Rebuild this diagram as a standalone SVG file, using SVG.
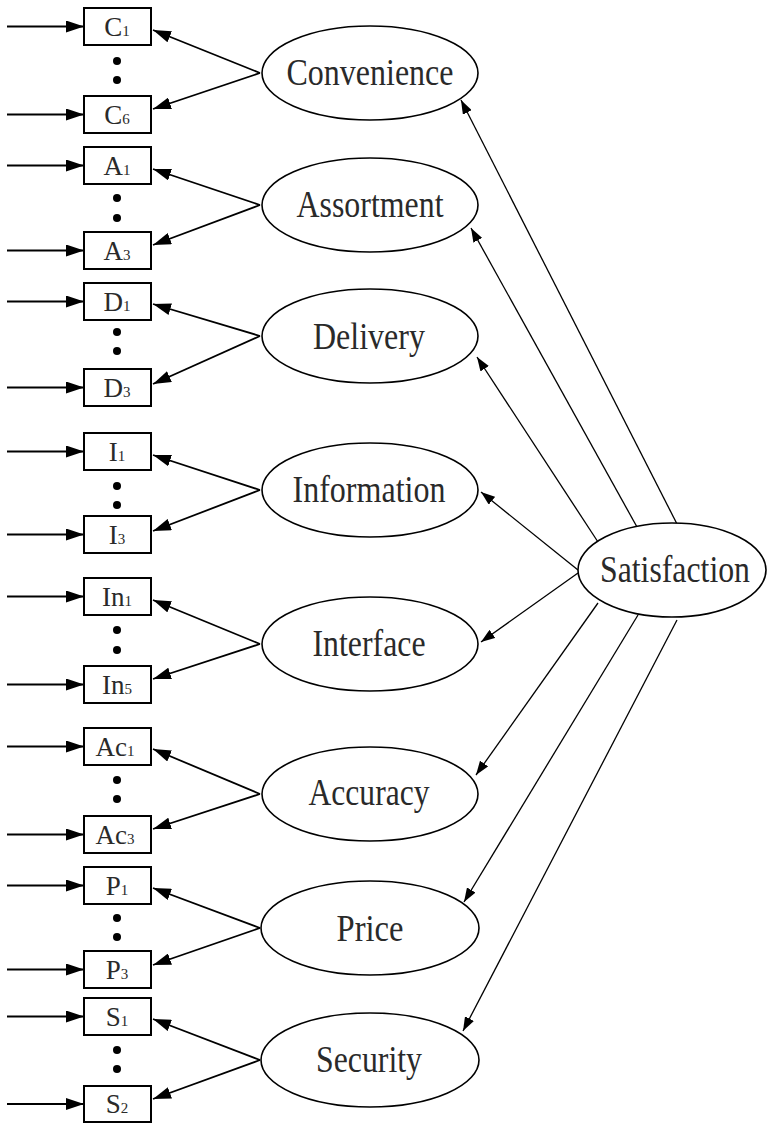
<svg xmlns="http://www.w3.org/2000/svg" width="769" height="1123" viewBox="0 0 769 1123">
<style>
.box{fill:#fff;stroke:#000;stroke-width:2}
.ell{fill:#fff;stroke:#000;stroke-width:1.6}
.dot{fill:#000}
.big{font-family:"Liberation Serif","Times New Roman",serif;font-size:37px;fill:#2a2a2a;text-anchor:middle}
.lbl{font-family:"Liberation Serif","Times New Roman",serif;font-size:27px;fill:#2a2a2a;text-anchor:middle}
.sub{font-size:15px}
.in{stroke:#000;stroke-width:2;fill:none;marker-end:url(#ah)}
.eb{stroke:#000;stroke-width:1.8;fill:none;marker-end:url(#ah)}
.sa{stroke:#000;stroke-width:1.3;fill:none;marker-end:url(#as)}
</style>
<defs>
<marker id="ah" markerUnits="userSpaceOnUse" markerWidth="18" markerHeight="12" refX="18" refY="6" orient="auto"><path d="M0,0 L18,6 L0,12 z" fill="#000"/></marker>
<marker id="as" markerUnits="userSpaceOnUse" markerWidth="14" markerHeight="10" refX="14" refY="5" orient="auto"><path d="M0,0 L14,5 L0,10 z" fill="#000"/></marker>
</defs>
<rect width="769" height="1123" fill="#fff"/>
<g id="connectors">
<line class="in" x1="7" y1="26.5" x2="84" y2="26.5"/>
<line class="in" x1="7" y1="114.5" x2="84" y2="114.5"/>
<line class="in" x1="7" y1="165.5" x2="84" y2="165.5"/>
<line class="in" x1="7" y1="250.5" x2="84" y2="250.5"/>
<line class="in" x1="7" y1="301.5" x2="84" y2="301.5"/>
<line class="in" x1="7" y1="387.5" x2="84" y2="387.5"/>
<line class="in" x1="7" y1="451.5" x2="84" y2="451.5"/>
<line class="in" x1="7" y1="534.5" x2="84" y2="534.5"/>
<line class="in" x1="7" y1="596.5" x2="84" y2="596.5"/>
<line class="in" x1="7" y1="684.5" x2="84" y2="684.5"/>
<line class="in" x1="7" y1="746.5" x2="84" y2="746.5"/>
<line class="in" x1="7" y1="834.5" x2="84" y2="834.5"/>
<line class="in" x1="7" y1="885.5" x2="84" y2="885.5"/>
<line class="in" x1="7" y1="969.5" x2="84" y2="969.5"/>
<line class="in" x1="7" y1="1016.5" x2="84" y2="1016.5"/>
<line class="in" x1="7" y1="1104" x2="84" y2="1104"/>
<line class="eb" x1="260" y1="73" x2="153" y2="30"/>
<line class="eb" x1="260" y1="73" x2="153" y2="109"/>
<line class="eb" x1="260" y1="205" x2="153" y2="169"/>
<line class="eb" x1="260" y1="205" x2="153" y2="245"/>
<line class="eb" x1="260" y1="336" x2="153" y2="304"/>
<line class="eb" x1="260" y1="336" x2="153" y2="384"/>
<line class="eb" x1="260" y1="490" x2="153" y2="455"/>
<line class="eb" x1="260" y1="490" x2="153" y2="531"/>
<line class="eb" x1="260" y1="644" x2="153" y2="600"/>
<line class="eb" x1="260" y1="644" x2="153" y2="679"/>
<line class="eb" x1="260" y1="794" x2="153" y2="749"/>
<line class="eb" x1="260" y1="794" x2="153" y2="829"/>
<line class="eb" x1="260" y1="928" x2="153" y2="888"/>
<line class="eb" x1="260" y1="928" x2="153" y2="965"/>
<line class="eb" x1="260" y1="1060" x2="153" y2="1019"/>
<line class="eb" x1="260" y1="1060" x2="153" y2="1099"/>
<line class="sa" x1="677" y1="524" x2="461" y2="100"/>
<line class="sa" x1="637" y1="527" x2="471" y2="228"/>
<line class="sa" x1="598" y1="542" x2="477" y2="357"/>
<line class="sa" x1="578" y1="570" x2="481" y2="492"/>
<line class="sa" x1="578" y1="573" x2="481" y2="642"/>
<line class="sa" x1="598" y1="603" x2="476" y2="775"/>
<line class="sa" x1="638" y1="615" x2="464" y2="902"/>
<line class="sa" x1="677" y1="620" x2="463" y2="1031"/>
</g>
<g id="convenience"><ellipse class="ell" cx="370" cy="73" rx="108" ry="47"/><text class="big" x="370" y="85" textLength="167" lengthAdjust="spacingAndGlyphs">Convenience</text></g>
<g id="assortment"><ellipse class="ell" cx="370" cy="205" rx="108" ry="47"/><text class="big" x="370" y="217" textLength="147" lengthAdjust="spacingAndGlyphs">Assortment</text></g>
<g id="delivery"><ellipse class="ell" cx="370" cy="336" rx="108" ry="47"/><text class="big" x="369" y="349" textLength="112" lengthAdjust="spacingAndGlyphs">Delivery</text></g>
<g id="information"><ellipse class="ell" cx="370" cy="490" rx="108" ry="47"/><text class="big" x="369" y="502" textLength="153" lengthAdjust="spacingAndGlyphs">Information</text></g>
<g id="interface"><ellipse class="ell" cx="370" cy="644" rx="108" ry="47"/><text class="big" x="369" y="656" textLength="113" lengthAdjust="spacingAndGlyphs">Interface</text></g>
<g id="accuracy"><ellipse class="ell" cx="370" cy="794" rx="108" ry="47"/><text class="big" x="369" y="805" textLength="121" lengthAdjust="spacingAndGlyphs">Accuracy</text></g>
<g id="price"><ellipse class="ell" cx="370" cy="928" rx="109" ry="47"/><text class="big" x="370" y="941" textLength="67" lengthAdjust="spacingAndGlyphs">Price</text></g>
<g id="security"><ellipse class="ell" cx="370" cy="1060" rx="109" ry="47"/><text class="big" x="369" y="1072" textLength="106" lengthAdjust="spacingAndGlyphs">Security</text></g>
<g id="satisfaction"><ellipse class="ell" cx="672" cy="570" rx="94" ry="47"/><text class="big" x="675" y="582" textLength="150" lengthAdjust="spacingAndGlyphs">Satisfaction</text></g>
<g id="C1"><rect class="box" x="84" y="8" width="67" height="37"/><text class="lbl" x="117" y="36">C<tspan class="sub">1</tspan></text></g>
<g id="C6"><rect class="box" x="84" y="96" width="67" height="37"/><text class="lbl" x="117" y="124">C<tspan class="sub">6</tspan></text></g>
<g id="A1"><rect class="box" x="84" y="147" width="67" height="37"/><text class="lbl" x="117" y="175">A<tspan class="sub">1</tspan></text></g>
<g id="A3"><rect class="box" x="84" y="232" width="67" height="37"/><text class="lbl" x="117" y="260">A<tspan class="sub">3</tspan></text></g>
<g id="D1"><rect class="box" x="84" y="283" width="67" height="37"/><text class="lbl" x="117" y="311">D<tspan class="sub">1</tspan></text></g>
<g id="D3"><rect class="box" x="84" y="369" width="67" height="37"/><text class="lbl" x="117" y="397">D<tspan class="sub">3</tspan></text></g>
<g id="I1"><rect class="box" x="84" y="433" width="67" height="37"/><text class="lbl" x="117" y="461">I<tspan class="sub">1</tspan></text></g>
<g id="I3"><rect class="box" x="84" y="516" width="67" height="37"/><text class="lbl" x="117" y="544">I<tspan class="sub">3</tspan></text></g>
<g id="In1"><rect class="box" x="84" y="578" width="67" height="37"/><text class="lbl" x="117" y="606">In<tspan class="sub">1</tspan></text></g>
<g id="In5"><rect class="box" x="84" y="666" width="67" height="37"/><text class="lbl" x="117" y="694">In<tspan class="sub">5</tspan></text></g>
<g id="Ac1"><rect class="box" x="84" y="728" width="67" height="37"/><text class="lbl" x="115" y="756">Ac<tspan class="sub">1</tspan></text></g>
<g id="Ac3"><rect class="box" x="84" y="816" width="67" height="37"/><text class="lbl" x="115" y="844">Ac<tspan class="sub">3</tspan></text></g>
<g id="P1"><rect class="box" x="84" y="867" width="67" height="37"/><text class="lbl" x="117" y="895">P<tspan class="sub">1</tspan></text></g>
<g id="P3"><rect class="box" x="84" y="951" width="67" height="37"/><text class="lbl" x="117" y="979">P<tspan class="sub">3</tspan></text></g>
<g id="S1"><rect class="box" x="84" y="998" width="67" height="37"/><text class="lbl" x="117" y="1026">S<tspan class="sub">1</tspan></text></g>
<g id="S2"><rect class="box" x="84" y="1086" width="67" height="36"/><text class="lbl" x="117" y="1113">S<tspan class="sub">2</tspan></text></g>
<g id="dots">
<circle class="dot" cx="117" cy="61" r="4"/><circle class="dot" cx="117" cy="80" r="4"/>
<circle class="dot" cx="117" cy="198" r="4"/><circle class="dot" cx="117" cy="218" r="4"/>
<circle class="dot" cx="117" cy="332" r="4"/><circle class="dot" cx="117" cy="351" r="4"/>
<circle class="dot" cx="117" cy="486" r="4"/><circle class="dot" cx="117" cy="505" r="4"/>
<circle class="dot" cx="117" cy="630" r="4"/><circle class="dot" cx="117" cy="650" r="4"/>
<circle class="dot" cx="117" cy="780" r="4"/><circle class="dot" cx="117" cy="799" r="4"/>
<circle class="dot" cx="117" cy="918" r="4"/><circle class="dot" cx="117" cy="937" r="4"/>
<circle class="dot" cx="117" cy="1050" r="4"/><circle class="dot" cx="117" cy="1069" r="4"/>
</g>
</svg>
